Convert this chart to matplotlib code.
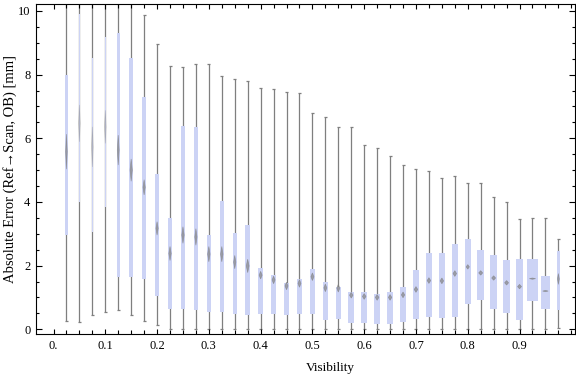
import numpy as np
import matplotlib
matplotlib.use('Agg')
import matplotlib.pyplot as plt
from matplotlib.ticker import FixedLocator

## Data (one box per visibility bin)
visibility = [0.025, 0.05, 0.075, 0.1, 0.125, 0.15, 0.175, 0.2, 0.225, 0.25,
              0.275, 0.3, 0.325, 0.35, 0.375, 0.4, 0.425, 0.45, 0.475, 0.5,
              0.525, 0.55, 0.575, 0.6, 0.625, 0.65, 0.675, 0.7, 0.725, 0.75,
              0.775, 0.8, 0.825, 0.85, 0.875, 0.9, 0.925, 0.95, 0.975]

whisker_lo = [0.27, 0.24, 0.46, 0.55, 0.60, 0.44, 0.25, 0.13, 0.0, 0.02,
              0.0, 0.0, 0.0, 0.0, 0.0, 0.0, 0.0, 0.0, 0.0, 0.0,
              0.0, 0.0, 0.0, 0.0, 0.0, 0.0, 0.0, 0.0, 0.0, 0.0,
              0.0, 0.0, 0.0, 0.0, 0.0, 0.0, 0.0, 0.0, 0.03]

q1 = [2.95, 4.00, 3.06, 3.85, 1.65, 1.63, 1.59, 1.04, 0.65, 0.65,
      0.62, 0.54, 0.54, 0.49, 0.46, 0.48, 0.48, 0.46, 0.48, 0.48,
      0.29, 0.31, 0.20, 0.19, 0.17, 0.17, 0.23, 0.31, 0.38, 0.36,
      0.39, 0.80, 0.92, 0.65, 0.52, 0.30, 0.89, 0.64, 0.60]

median = [5.58, 6.47, 5.73, 6.36, 5.63, 5.00, 4.46, 3.17, 2.38, 2.96,
          2.90, 2.36, 2.36, 2.11, 1.99, 1.70, 1.55, 1.36, 1.44, 1.65,
          1.30, 1.29, 1.07, 1.03, 1.00, 1.00, 1.08, 1.25, 1.53, 1.52,
          1.75, 1.96, 1.77, 1.61, 1.46, 1.34, 1.59, 1.20, 1.58]

q3 = [7.99, 9.91, 8.51, 9.19, 9.30, 8.51, 7.31, 4.87, 3.48, 6.38,
      6.35, 2.96, 4.03, 3.02, 3.26, 1.92, 1.70, 1.45, 1.57, 1.89,
      1.48, 1.33, 1.16, 1.16, 1.10, 1.16, 1.32, 1.86, 2.39, 2.39,
      2.68, 2.83, 2.49, 2.33, 2.18, 2.21, 2.21, 1.67, 2.45]

whisker_hi = [11.0, 11.0, 11.0, 11.0, 11.0, 11.0, 9.86, 8.96, 8.28, 8.25,
              8.32, 8.32, 7.97, 7.85, 7.79, 7.57, 7.54, 7.44, 7.41, 6.81,
              6.66, 6.34, 6.34, 5.78, 5.71, 5.43, 5.15, 5.05, 4.98, 4.74,
              4.80, 4.58, 4.58, 4.17, 3.99, 3.46, 3.51, 3.48, 2.82]

# half height of the median notch marker
notch = [0.55, 0.58, 0.63, 0.52, 0.47, 0.35, 0.24, 0.21, 0.22, 0.26,
         0.26, 0.24, 0.24, 0.21, 0.21, 0.12, 0.12, 0.12, 0.12, 0.12,
         0.12, 0.12, 0.09, 0.09, 0.09, 0.09, 0.09, 0.09, 0.09, 0.09,
         0.09, 0.07, 0.07, 0.07, 0.07, 0.07, 0.02, 0.02, 0.17]

# box widths in pixels (Mathematica scales them by bin count)
box_px = [2.3, 1.3, 1.5, 1.5, 3.3, 4.0, 4.0, 4.0, 4.3, 4.3,
          4.0, 4.3, 4.3, 4.0, 5.0, 5.3, 5.3, 5.3, 5.3, 5.3,
          5.3, 5.3, 6.0, 6.3, 6.3, 6.0, 6.0, 6.3, 6.3, 6.3,
          6.3, 5.7, 7.0, 7.0, 7.0, 7.0, 11.0, 9.7, 3.3]

x_major = [0.0, 0.1, 0.2, 0.3, 0.4, 0.5, 0.6, 0.7, 0.8, 0.9]
x_labels = ['0.', '0.1', '0.2', '0.3', '0.4', '0.5', '0.6', '0.7', '0.8', '0.9']
y_major = [0, 2, 4, 6, 8, 10]

## Style
plt.rcParams['font.family'] = ['Liberation Serif', 'DejaVu Serif']
box_color = '#CCD3F5'
line_color = '#7F7F7F'

fig = plt.figure(figsize=(5.76, 3.77), dpi=100)
ax = fig.add_axes([0.0625, 0.114, 0.9355, 0.8746])

xmin, xmax = -0.0338, 1.0068
px = (xmax - xmin) / (0.9355 * 576)   # data units per pixel along x

pos = np.array(visibility)
widths = np.array(box_px) * px

# Whiskers and caps
ax.vlines(pos, whisker_lo, whisker_hi, color=line_color, lw=0.9, zorder=1)
cap = 1.5 * px
ax.hlines(whisker_lo, pos - cap, pos + cap, color=line_color, lw=0.9, zorder=1)
ax.hlines(whisker_hi, pos - cap, pos + cap, color=line_color, lw=0.9, zorder=1)

# Boxes
ax.bar(pos, np.array(q3) - np.array(q1), bottom=q1, width=widths,
       color=box_color, edgecolor='none', zorder=2)

# Median notch markers (small diamonds), fainter in the thin boxes
for x, m, h, w in zip(pos, median, notch, widths):
    hw = max(0.28 * w, 0.8 * px)
    a = 0.35 if w < 2 * px else 0.65
    ax.fill([x - hw, x, x + hw, x], [m, m + h, m, m - h],
            color=line_color, alpha=a, lw=0.5, edgecolor=line_color, zorder=3)

## Axes
ax.set_xlim(xmin, xmax)
ax.set_ylim(-0.15, 10.21)

ax.xaxis.set_major_locator(FixedLocator(x_major))
ax.set_xticklabels(x_labels)
ax.xaxis.set_minor_locator(FixedLocator(np.arange(0, 1.001, 0.025)))
ax.yaxis.set_major_locator(FixedLocator(y_major))
ax.yaxis.set_minor_locator(FixedLocator(np.arange(0, 10.01, 0.5)))

ax.tick_params(which='both', direction='in', top=True, right=True,
               width=0.8, labelsize=9, pad=4)
ax.tick_params(axis='x', which='major', length=3.5)
ax.tick_params(axis='x', which='minor', length=3)
ax.tick_params(axis='y', which='major', length=4)
ax.tick_params(axis='y', which='minor', length=2.3)
for s in ax.spines.values():
    s.set_linewidth(0.8)

ax.set_xlabel('Visibility', fontsize=9.5)
ax.xaxis.set_label_coords(0.547, -0.085)
ax.set_ylabel('Absolute Error (Ref\u2192Scan, OB) [mm]', fontsize=10.5, labelpad=1)

fig.savefig('out.png', dpi=100)
